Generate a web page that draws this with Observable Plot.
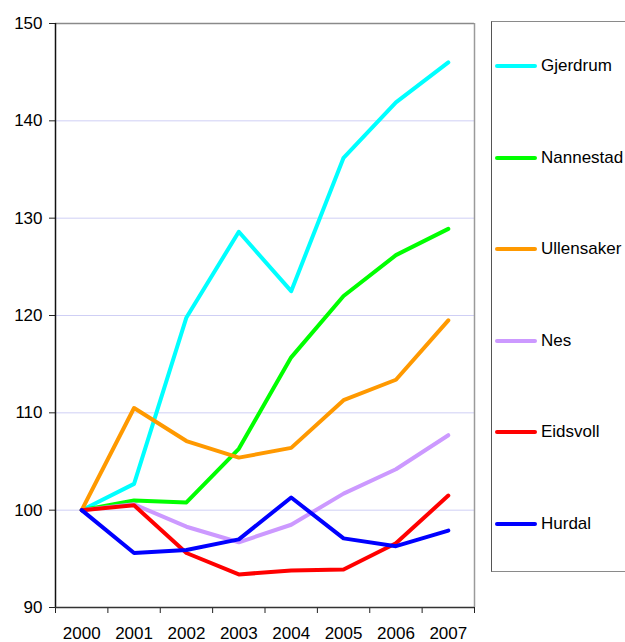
<!DOCTYPE html>
<html>
<head>
<meta charset="utf-8">
<script src="https://cdn.jsdelivr.net/npm/d3@7"></script>
<script src="https://cdn.jsdelivr.net/npm/@observablehq/plot@0.6"></script>
<style>
  html, body { margin: 0; padding: 0; background: #fff; }
  #wrap { position: relative; width: 625px; height: 642px; overflow: hidden; font-family: "Liberation Sans", Arial, sans-serif; }
  #legend { position: absolute; left: 491px; top: 21px; width: 160px; height: 551px; border: 1.5px solid #8a8a8a; border-left-color: #555; box-sizing: border-box; }
  .item { position: absolute; left: 0; height: 20px; display: flex; align-items: center; font-size: 17px; color: #000; white-space: nowrap; }
  .sw { display: inline-block; width: 42px; height: 4px; border-radius: 2px; margin-left: 3px; margin-right: 4px; }
</style>
</head>
<body>
<div id="wrap"><div id="legend"></div></div>
<script>
const years = [2000, 2001, 2002, 2003, 2004, 2005, 2006, 2007];
const seriesNames = ["Gjerdrum", "Nannestad", "Ullensaker", "Nes", "Eidsvoll", "Hurdal"];
const seriesColors = ["#00ffff", "#00ff00", "#ff9900", "#cc99ff", "#ff0000", "#0000ff"];
const gjerdrum   = [100, 102.7, 119.8, 128.6, 122.5, 136.2, 141.9, 146.0];
const nannestad  = [100, 101.0, 100.8, 106.3, 115.7, 122.0, 126.2, 128.9];
const ullensaker = [100, 110.5, 107.1, 105.4, 106.4, 111.3, 113.4, 119.5];
const nes        = [100, 100.6, 98.3, 96.7, 98.5, 101.7, 104.2, 107.7];
const eidsvoll   = [100, 100.5, 95.6, 93.4, 93.8, 93.9, 96.6, 101.5];
const hurdal     = [100, 95.6, 95.9, 97.0, 101.3, 97.1, 96.3, 97.9];
const yTicks = [90, 100, 110, 120, 130, 140, 150];

const allValues = [gjerdrum, nannestad, ullensaker, nes, eidsvoll, hurdal];
const rows = [];
seriesNames.forEach((name, s) => {
  years.forEach((yr, i) => rows.push({series: name, year: yr, value: allValues[s][i]}));
});
const bounds = years.map(y => y - 0.5).concat([years[years.length - 1] + 0.5]);
const xMin = bounds[0], xMax = bounds[bounds.length - 1];

const chart = Plot.plot({
  width: 625,
  height: 642,
  marginLeft: 55,
  marginRight: 151,
  marginTop: 23,
  marginBottom: 35,
  style: {fontFamily: "'Liberation Sans', Arial, sans-serif", fontSize: "17px", color: "#000", background: "transparent", overflow: "visible"},
  x: {domain: [xMin, xMax], label: null},
  y: {domain: [90, 150], label: null},
  color: {domain: seriesNames, range: seriesColors},
  marks: [
    Plot.gridY(yTicks.slice(1, -1), {stroke: "#cfcff5", strokeOpacity: 1, strokeWidth: 1}),
    Plot.ruleY([150], {stroke: "#8a8a8a", strokeWidth: 1.5}),
    Plot.ruleX([xMax], {stroke: "#9a9a9a", strokeWidth: 1.5}),
    Plot.axisY(yTicks, {tickSize: 6, tickPadding: 7, fontSize: 17, stroke: "#222", label: null, tickFormat: d => String(d)}),
    Plot.axisX(bounds, {tickSize: 6, tickFormat: () => "", stroke: "#222", label: null}),
    Plot.axisX(years, {tickSize: 0, tickPadding: 19, fontSize: 17, label: null, tickFormat: d => String(d)}),
    Plot.ruleX([xMin], {stroke: "#111", strokeWidth: 1.5}),
    Plot.ruleY([90], {stroke: "#333", strokeWidth: 1.5}),
    Plot.line(rows, {x: "year", y: "value", z: "series", stroke: "series", strokeWidth: 4, strokeLinejoin: "round", strokeLinecap: "round"})
  ]
});
chart.style.position = "absolute";
chart.style.left = "0px";
chart.style.top = "0px";
document.getElementById("wrap").insertBefore(chart, document.getElementById("legend"));

const legend = document.getElementById("legend");
seriesNames.forEach((name, i) => {
  const item = document.createElement("div");
  item.className = "item";
  item.style.top = (65 - 21 - 10 + i * 91.6) + "px";
  const sw = document.createElement("span");
  sw.className = "sw";
  sw.style.background = seriesColors[i];
  const t = document.createElement("span");
  t.textContent = name;
  item.appendChild(sw);
  item.appendChild(t);
  legend.appendChild(item);
});
</script>
</body>
</html>
